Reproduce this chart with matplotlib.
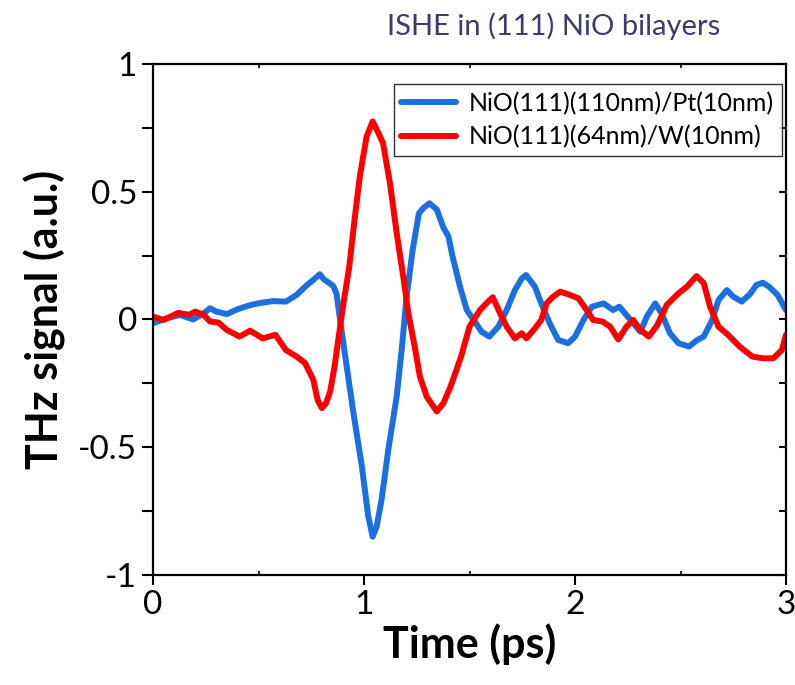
import numpy as np
import matplotlib
matplotlib.use("Agg")
import matplotlib.pyplot as plt
from matplotlib.ticker import MultipleLocator
from matplotlib import font_manager

# NiO(111)(110nm)/Pt(10nm) -- blue
t_pt = [0.0, 0.065, 0.128, 0.19, 0.24, 0.27, 0.30, 0.35, 0.40, 0.46, 0.51, 0.57, 0.63,
        0.68, 0.73, 0.76, 0.79, 0.81, 0.84, 0.855, 0.87, 0.886, 0.918, 0.95, 0.99, 1.02,
        1.041, 1.06, 1.083, 1.115, 1.155, 1.18, 1.20, 1.23, 1.26, 1.28, 1.31, 1.345, 1.376,
        1.40, 1.42, 1.455, 1.487, 1.52, 1.557, 1.594, 1.637, 1.676, 1.715, 1.747, 1.768,
        1.81, 1.84, 1.88, 1.92, 1.968, 2.0, 2.04, 2.08, 2.135, 2.18, 2.21, 2.25, 2.29, 2.31,
        2.34, 2.38, 2.41, 2.45, 2.49, 2.54, 2.58, 2.61, 2.65, 2.68, 2.72, 2.75, 2.79, 2.83,
        2.86, 2.89, 2.92, 2.96, 3.0]
v_pt = [-0.015, 0.005, 0.018, 0.0, 0.024, 0.044, 0.031, 0.021, 0.04, 0.056, 0.065, 0.072, 0.07,
        0.096, 0.135, 0.155, 0.177, 0.157, 0.14, 0.13, 0.10, 0.0, -0.185, -0.367, -0.576, -0.77,
        -0.85, -0.81, -0.706, -0.51, -0.30, -0.106, 0.076, 0.27, 0.415, 0.435, 0.455, 0.43, 0.36,
        0.325, 0.245, 0.128, 0.037, -0.002, -0.048, -0.067, -0.028, 0.037, 0.115, 0.16, 0.174,
        0.128, 0.063, -0.015, -0.08, -0.093, -0.067, -0.002, 0.05, 0.063, 0.037, 0.05, 0.011, -0.028, -0.048,
        0.011, 0.063, 0.024, -0.054, -0.093, -0.106, -0.08, -0.067, -0.002, 0.076, 0.115, 0.089, 0.07, 0.10,
        0.135, 0.144, 0.128, 0.096, 0.037]

# NiO(111)(64nm)/W(10nm) -- red
t_w = [0.0, 0.05, 0.12, 0.17, 0.20, 0.24, 0.27, 0.31, 0.35, 0.41, 0.46, 0.52, 0.58, 0.63,
       0.68, 0.72, 0.76, 0.78, 0.80, 0.82, 0.84, 0.86, 0.90, 0.93, 0.955, 0.98, 1.012, 1.041,
       1.068, 1.09, 1.123, 1.155, 1.186, 1.21, 1.24, 1.265, 1.297, 1.345, 1.376, 1.41, 1.46,
       1.50, 1.55, 1.58, 1.61, 1.645, 1.676, 1.715, 1.747, 1.77, 1.81, 1.84, 1.865, 1.896,
       1.93, 1.976, 2.016, 2.055, 2.086, 2.13, 2.166, 2.205, 2.244, 2.276, 2.31, 2.35, 2.39,
       2.435, 2.49, 2.53, 2.576, 2.61, 2.64, 2.68, 2.725, 2.78, 2.84, 2.89, 2.94, 2.98, 3.0]
v_w = [0.011, -0.002, 0.026, 0.018, 0.031, 0.018, -0.008, -0.012, -0.041, -0.067, -0.044, -0.074,
       -0.06, -0.12, -0.145, -0.17, -0.237, -0.315, -0.347, -0.328, -0.28, -0.185, 0.05, 0.206, 0.39,
       0.56, 0.715, 0.775, 0.73, 0.69, 0.533, 0.337, 0.167, 0.024, -0.106, -0.224, -0.302, -0.36,
       -0.328, -0.263, -0.145, -0.028, 0.037, 0.063, 0.087, 0.024, -0.028, -0.074, -0.054, -0.074,
       -0.035, -0.002, 0.063, 0.089, 0.109, 0.096, 0.083, 0.037, -0.002, -0.008, -0.028, -0.078,
       -0.028, -0.002, -0.041, -0.067, -0.022, 0.057, 0.102, 0.128, 0.17, 0.142, 0.05, -0.028, -0.06,
       -0.106, -0.145, -0.152, -0.152, -0.12, -0.06]

xticks = [0, 1, 2, 3]
yticks = [-1, -0.5, 0, 0.5, 1]
yticklabels = ['-1', '-0.5', '0', '0.5', '1']

plt.rcParams['font.family'] = ['Lato', 'DejaVu Sans']

fig = plt.figure(figsize=(7.95, 6.85), dpi=100)
ax = fig.add_axes((0.1925, 0.1606, 0.7962, 0.746))

ax.plot(t_pt, v_pt, color='#1c6fe0', linewidth=4.3, label='NiO(111)(110nm)/Pt(10nm)',
        solid_joinstyle='round', solid_capstyle='round')
ax.plot(t_w, v_w, color='#ff0000', linewidth=4.3, label='NiO(111)(64nm)/W(10nm)',
        solid_joinstyle='round', solid_capstyle='round')

ax.set_xlim(0, 3)
ax.set_ylim(-1, 1)
ax.set_xticks(xticks)
ax.set_xticklabels([str(x) for x in xticks])
ax.set_yticks(yticks)
ax.set_yticklabels(yticklabels)
ax.xaxis.set_minor_locator(MultipleLocator(0.5))
ax.yaxis.set_minor_locator(MultipleLocator(0.25))
ax.tick_params(axis='both', which='major', labelsize=24, width=1.5)
ax.tick_params(axis='y', which='major', direction='out', length=8, right=False)
ax.tick_params(axis='y', which='minor', direction='out', length=8, width=1.5, right=False)
ax.tick_params(axis='x', which='major', direction='out', length=7, top=False)
ax.tick_params(axis='x', which='minor', direction='in', length=3, width=1.2, top=True)
for s in ax.spines.values():
    s.set_linewidth(1.6)

# right side ticks inward
ax2 = ax.secondary_yaxis('right')
ax2.set_yticks([])
ax2.yaxis.set_minor_locator(MultipleLocator(0.25))
ax2.tick_params(which='both', direction='in', length=5, width=1.5, labelright=False)
ax2.spines['right'].set_visible(False)

ax.set_xlabel('Time (ps)', fontsize=31, fontweight='bold', labelpad=3)
ax.set_ylabel('THz signal (a.u.)', fontsize=31, fontweight='bold', labelpad=9)

leg = ax.legend(loc='upper right', fontsize=18, frameon=True, fancybox=False,
                edgecolor='black', handlelength=2.2, handletextpad=0.5, borderpad=0.3,
                labelspacing=0.4, bbox_to_anchor=(0.993, 0.96), borderaxespad=0)
leg.get_frame().set_linewidth(1.0)

names = {f.name for f in font_manager.fontManager.ttflist}
if 'Liberation Sans Narrow' in names:
    title_family = ['Liberation Sans Narrow', 'Lato']
    title_size = 27
else:
    title_family = ['Lato']
    title_size = 21
fig.text(0.697, 0.962, 'ISHE in (111) NiO bilayers', ha='center', va='center',
         fontsize=title_size, color='#3b3b72', family=title_family)

fig.savefig('out.png', dpi=100)
